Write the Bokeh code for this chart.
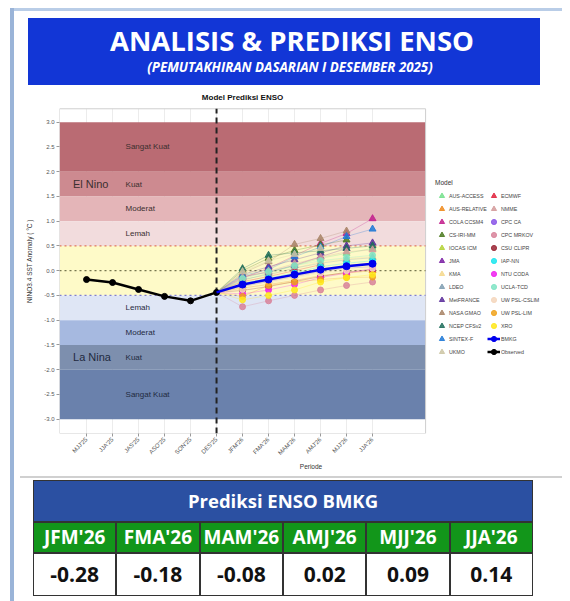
import math
from bokeh.plotting import figure
from bokeh.models import Range1d, FixedTicker, NumeralTickFormatter, Legend, LegendItem, Div
from bokeh.layouts import row, column
from bokeh.core.properties import value
from bokeh.embed import file_html
from bokeh.resources import INLINE

nan = float("nan")

# ---------------- data ----------------
periods = ["MJJ'25", "JJA'25", "JAS'25", "ASO'25", "SON'25", "DES'25",
           "JFM'26", "FMA'26", "MAM'26", "AMJ'26", "MJJ'26", "JJA'26"]
observed = [-0.18, -0.24, -0.38, -0.52, -0.61, -0.44]
bmkg = [-0.28, -0.18, -0.08, 0.02, 0.09, 0.14]

aus_access   = [-0.20, -0.05, 0.10, 0.25, 0.35, 0.45]
aus_relative = [-0.35, -0.28, -0.20, -0.10, -0.05, 0.00]
cola_ccsm4   = [-0.15, 0.05, 0.30, 0.55, 0.75, 1.05]
cs_iri_mm    = [0.00, 0.25, 0.41, 0.52, 0.62, nan]
iocas_icm    = [-0.30, -0.20, -0.10, 0.00, 0.10, 0.15]
jma          = [-0.12, -0.03, 0.11, 0.28, 0.45, nan]
kma          = [-0.25, -0.10, 0.05, 0.18, 0.24, 0.28]
ldeo         = [-0.18, -0.08, 0.05, 0.15, 0.22, 0.26]
metfrance    = [-0.08, 0.08, 0.22, 0.36, 0.50, 0.56]
nasa_gmao    = [-0.05, 0.18, 0.53, 0.65, 0.80, nan]
ncep_cfsv2   = [0.04, 0.31, 0.36, 0.40, 0.45, 0.50]
sintex_f     = [-0.10, 0.02, 0.28, 0.48, 0.69, 0.84]
ukmo         = [-0.02, 0.20, 0.33, 0.45, nan, nan]
ecmwf        = [-0.22, -0.12, 0.00, 0.12, nan, nan]
nmme         = [-0.14, -0.01, 0.14, 0.27, 0.38, 0.42]
cpc_ca       = [-0.32, -0.22, -0.12, -0.02, 0.05, 0.08]
cpc_mrkov    = [-0.73, -0.61, -0.50, -0.39, -0.30, -0.23]
csu_clipr    = [-0.40, -0.32, -0.22, -0.12, -0.03, 0.02]
iap_nn       = [-0.26, -0.15, -0.05, 0.08, 0.15, 0.20]
ntu_coda     = [-0.47, -0.39, -0.28, -0.14, -0.05, 0.04]
ucla_tcd     = [-0.16, -0.02, 0.10, 0.20, 0.26, 0.31]
uw_psl_cslim = [-0.38, -0.25, -0.15, -0.05, 0.00, 0.05]
uw_psl_lim   = [-0.52, -0.30, -0.23, -0.18, -0.14, -0.13]
xro          = [-0.59, -0.50, -0.39, -0.23, -0.14, -0.08]

model_names = ["AUS-ACCESS", "AUS-RELATIVE", "COLA CCSM4", "CS-IRI-MM", "IOCAS ICM", "JMA", "KMA",
               "LDEO", "MetFRANCE", "NASA GMAO", "NCEP CFSv2", "SINTEX-F", "UKMO",
               "ECMWF", "NMME", "CPC CA", "CPC MRKOV", "CSU CLIPR", "IAP-NN", "NTU CODA",
               "UCLA-TCD", "UW PSL-CSLIM", "UW PSL-LIM", "XRO"]
model_values = [aus_access, aus_relative, cola_ccsm4, cs_iri_mm, iocas_icm, jma, kma,
                ldeo, metfrance, nasa_gmao, ncep_cfsv2, sintex_f, ukmo,
                ecmwf, nmme, cpc_ca, cpc_mrkov, csu_clipr, iap_nn, ntu_coda,
                ucla_tcd, uw_psl_cslim, uw_psl_lim, xro]
model_colors = ["#74e08c", "#ee8a1c", "#c21d8c", "#4b7a1e", "#b3d236", "#7a1fa3", "#f4d88c",
                "#7f9db2", "#5a2d9a", "#a88466", "#1e6d5a", "#1f78d6", "#cdc5a5",
                "#e0223c", "#d39a9a", "#8a55e8", "#d8839a", "#9a2434", "#1ae6ee", "#f01ef0",
                "#7fe4c4", "#f5d6bc", "#f0a21c", "#ffe81a"]
model_markers = ["triangle"] * 15 + ["circle"] * 9

band_bottoms = [2.0, 1.5, 1.0, 0.5, -0.5, -1.0, -1.5, -2.0, -3.0]
band_tops    = [3.0, 2.0, 1.5, 1.0, 0.5, -0.5, -1.0, -1.5, -2.0]
band_colors  = ["#ba6b73", "#cd8a90", "#e4b5b8", "#f2dcdd", "#fefac8",
                "#dfe6f5", "#a6b9e0", "#7d8fae", "#6a81ac"]

band_labels   = ["Sangat Kuat", "Kuat", "Moderat", "Lemah", "Lemah", "Moderat", "Kuat", "Sangat Kuat"]
band_label_y  = [2.5, 1.75, 1.25, 0.75, -0.75, -1.25, -1.75, -2.5]
phase_labels  = ["El Nino", "La Nina"]
phase_label_y = [1.75, -1.75]

thresholds = [0.5, 0.0, -0.5]
threshold_colors = ["#e0785a", "#77774f", "#7f7fd0"]

y_ticks = [-3.0, -2.5, -2.0, -1.5, -1.0, -0.5, 0.0, 0.5, 1.0, 1.5, 2.0, 2.5, 3.0]

table_title = "Prediksi ENSO BMKG"
table_periods = ["JFM'26", "FMA'26", "MAM'26", "AMJ'26", "MJJ'26", "JJA'26"]
table_values = ["-0.28", "-0.18", "-0.08", "0.02", "0.09", "0.14"]

W = 548

# ---------------- header (HTML) ----------------
header_html = (
    "<div style='position:relative;width:548px;height:88px;overflow:hidden;'>"
    "<div style='position:absolute;left:0;top:8px;width:548px;height:3px;background:#b9cde7;'></div>"
    "<div style='position:absolute;left:14px;top:18px;width:512px;height:67px;background:#1236d6;'></div>"
    "<div style='position:absolute;left:22px;top:24px;width:512px;text-align:center;color:white;"
    "font-family:\"Open Sans\";font-weight:bold;font-size:27.5px;line-height:34px;white-space:nowrap;'>"
    "ANALISIS &amp; PREDIKSI ENSO</div>"
    "<div style='position:absolute;left:20px;top:59px;width:512px;text-align:center;color:white;"
    "font-family:\"Open Sans\";font-weight:bold;font-style:italic;font-size:13.3px;line-height:16px;"
    "white-space:nowrap;'>(PEMUTAKHIRAN DASARIAN I DESEMBER 2025)</div>"
    "</div>"
)
hdr = Div(text=header_html, width=W, height=88, margin=0)

# ---------------- chart ----------------
PX = 26.0      # px per period
PY = 49.5      # px per degree
x0 = -1.04                 # panel left
xp1 = 13.04                # panel right
y0, yp1 = -3.29, 3.27      # panel bottom / top
left_b, bottom_b = 45, 42
CH = 387
frame_w = W - left_b
frame_h = CH - bottom_b
x_end = x0 + frame_w / PX
y_end = y0 + frame_h / PY

xs = list(range(len(periods)))
obs_x = xs[:len(observed)]
fc_x = xs[len(observed) - 1:]

p = figure(width=W, height=CH, x_range=Range1d(x0, x_end), y_range=Range1d(y0, y_end),
           output_backend="svg", toolbar_location=None,
           min_border_left=left_b, min_border_right=0, min_border_top=0, min_border_bottom=bottom_b)
p.outline_line_color = None
p.grid.visible = False

# faint vertical grid
p.segment(x0=xs, x1=xs, y0=[y0] * len(xs), y1=[yp1] * len(xs), line_color="#ececec", line_width=1)

for b, t, c in zip(band_bottoms, band_tops, band_colors):
    p.quad(left=x0, right=xp1, bottom=b, top=t, color=c, line_color=None)

p.quad(left=x0, right=xp1, bottom=y0, top=yp1, fill_color=None, line_color="#cfcfcf", line_width=1)

p.text(x=[(x0 + xp1) / 2], y=[yp1 + 11 / PY], text=["Model Prediksi ENSO"], text_align="center",
       text_baseline="middle", text_font=value("Liberation Sans"), text_font_size="8px",
       text_font_style="bold", text_color="#111111")

p.text(x=[1.5] * len(band_labels), y=band_label_y, text=band_labels,
       text_font=value("Liberation Sans"), text_font_size="8px", text_baseline="middle",
       text_color=["#3a2f2f"] * 4 + ["#1f2a40"] * 4)
p.text(x=[-0.52] * 2, y=phase_label_y, text=phase_labels,
       text_font=value("Liberation Sans"), text_font_size="11px", text_baseline="middle",
       text_color=["#3a2f2f", "#1f2a40"])

for v, c in zip(thresholds, threshold_colors):
    p.line([x0, xp1], [v, v], line_color=c, line_width=1.3, line_dash="2 3")

p.line([obs_x[-1], obs_x[-1]], [y0, yp1], line_color="#222222", line_width=2, line_dash="6 4")

renderers = {}
for name, vals, col, mk in zip(model_names, model_values, model_colors, model_markers):
    yy = [observed[-1]] + vals
    p.line(fc_x, yy, line_color=col, line_width=0.8, line_alpha=0.35)
    r = p.scatter(fc_x[1:], vals, marker=mk, size=7 if mk == "triangle" else 6,
                  fill_color=col, line_color=col, fill_alpha=0.85, line_alpha=0.85)
    renderers[name] = r

r_obs_l = p.line(obs_x, observed, line_color="black", line_width=2.5)
r_obs_s = p.scatter(obs_x, observed, marker="circle", size=6, color="black")
r_b_l = p.line(fc_x, [observed[-1]] + bmkg, line_color="#0000ee", line_width=2.5)
r_b_s = p.scatter(fc_x[1:], bmkg, marker="circle", size=7, color="#0000ee")

p.xaxis.ticker = FixedTicker(ticks=xs)
p.xaxis.major_label_overrides = {i: s for i, s in enumerate(periods)}
p.xaxis.major_label_orientation = math.pi / 4
p.yaxis.ticker = FixedTicker(ticks=y_ticks)
p.yaxis.formatter = NumeralTickFormatter(format="0.0")
for ax in [p.xaxis, p.yaxis]:
    ax.axis_line_color = None
    ax.major_tick_line_color = "#999999"
    ax.major_tick_out = 3
    ax.major_tick_in = 0
    ax.minor_tick_line_color = None
    ax.major_label_text_font = "Liberation Sans"
    ax.major_label_text_font_size = "6px"
    ax.major_label_text_color = "#555555"
    ax.axis_label_text_font = "Liberation Sans"
    ax.axis_label_text_font_size = "6.5px"
    ax.axis_label_text_font_style = "normal"
    ax.axis_label_text_color = "#333333"
    ax.major_label_standoff = 2
p.xaxis.axis_label = "Periode"
p.yaxis.axis_label = "NINO3.4 SST Anomaly ( °C )"
p.xaxis.axis_label_standoff = 2
p.yaxis.axis_label_standoff = 8

items1 = [LegendItem(label=n, renderers=[renderers[n]]) for n in model_names[:13]]
items2 = [LegendItem(label=n, renderers=[renderers[n]]) for n in model_names[13:]]
items2.append(LegendItem(label="BMKG", renderers=[r_b_l, r_b_s]))
items2.append(LegendItem(label="Observed", renderers=[r_obs_l, r_obs_s]))

def make_legend(items, title, loc):
    lg = Legend(items=items, title=title, location=loc)
    lg.title_text_font = "Liberation Sans"
    lg.title_text_font_size = "6.5px"
    lg.title_text_font_style = "normal"
    lg.title_text_color = "#333333"
    lg.title_standoff = 3
    lg.label_text_font = "Liberation Sans"
    lg.label_text_font_size = "5.3px"
    lg.label_text_color = "#444444"
    lg.glyph_width = 13
    lg.glyph_height = 13
    lg.label_height = 13
    lg.label_standoff = 1
    lg.spacing = 0
    lg.padding = 2
    lg.margin = 0
    lg.border_line_color = None
    lg.background_fill_alpha = 0
    return lg

# legend boxes placed to the right of the panel (offsets in px from frame bottom-left)
p.add_layout(make_legend(items1, "Model", (376, 75)))
p.add_layout(make_legend(items2, " ", (428, 75)))

# ---------------- table (HTML) ----------------
tl, tw = 19, 500
r0, r1, r2, r3 = 5, 47, 78, 121
n = len(table_periods)
cw = tw / n
cells = []
for i, (lab, val) in enumerate(zip(table_periods, table_values)):
    left = tl + i * cw
    cells.append(
        f"<div style='position:absolute;left:{left:.1f}px;top:{r1}px;width:{cw:.1f}px;height:{r2 - r1}px;"
        f"box-sizing:border-box;border:1px solid #333;background:#12961a;color:white;"
        f"font-family:\"Open Sans\";font-weight:bold;font-size:19px;line-height:{r2 - r1 - 2}px;"
        f"text-align:center;white-space:nowrap;'>{lab}</div>"
        f"<div style='position:absolute;left:{left:.1f}px;top:{r2}px;width:{cw:.1f}px;height:{r3 - r2}px;"
        f"box-sizing:border-box;border:1px solid #333;background:white;color:#111;"
        f"font-family:\"Open Sans\";font-weight:bold;font-size:21px;line-height:{r3 - r2 - 2}px;"
        f"text-align:center;white-space:nowrap;'>{val}</div>"
    )
table_html = (
    "<div style='position:relative;width:548px;height:126px;overflow:hidden;'>"
    "<div style='position:absolute;left:6px;top:1px;width:542px;height:2px;background:#d0d0d0;'></div>"
    f"<div style='position:absolute;left:{tl}px;top:{r0}px;width:{tw}px;height:{r1 - r0}px;"
    "box-sizing:border-box;border:1px solid #333;background:#2b50a2;color:white;"
    f"font-family:\"Open Sans\";font-weight:bold;font-size:18.5px;line-height:{r1 - r0 - 2}px;"
    f"text-align:center;white-space:nowrap;'>{table_title}</div>"
    + "".join(cells) +
    "</div>"
)
tbl = Div(text=table_html, width=W, height=126, margin=0)

side = Div(text="", width=4, height=593, margin=(8, 0, 0, 10),
           styles={"background-color": "#9ab4d8"})
layout = row(side, column(hdr, p, tbl, spacing=0), spacing=0)

open("out.html", "w").write(file_html(layout, INLINE))
